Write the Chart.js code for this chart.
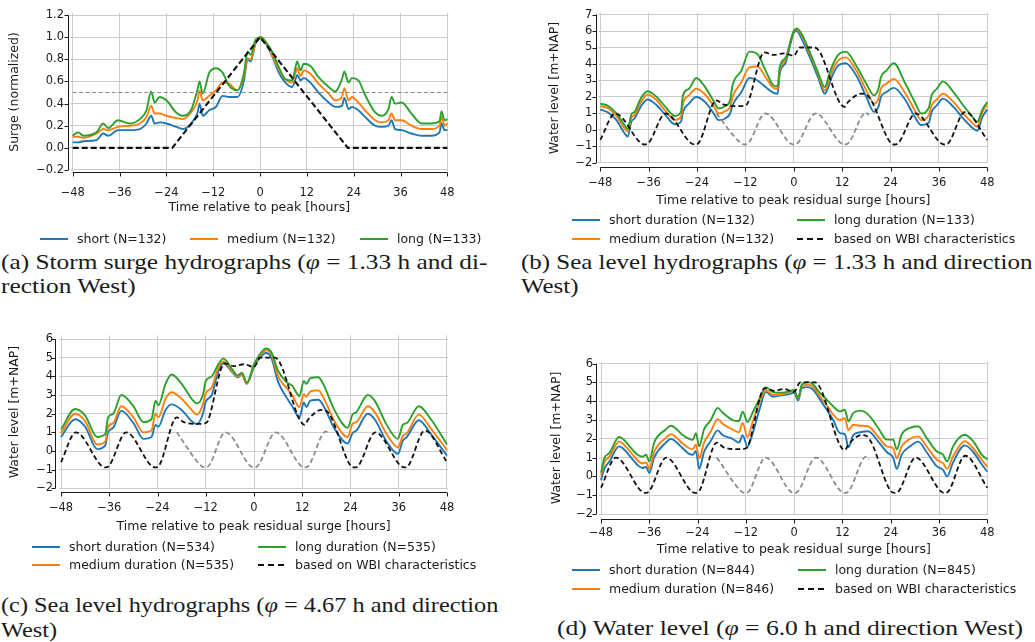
<!DOCTYPE html>
<html><head><meta charset="utf-8">
<script src="https://cdn.jsdelivr.net/npm/chart.js@4.4.1/dist/chart.umd.min.js"></script>
<style>
html,body{margin:0;padding:0;background:#fff;}
#wrap{position:relative;width:1035px;height:642px;overflow:hidden;background:#fff;}
canvas{position:absolute;}
.cap{position:absolute;white-space:nowrap;font-family:"Liberation Serif",serif;font-size:21px;line-height:24px;height:24px;color:#1a1a1a;transform-origin:0 50%;}
.leg{position:absolute;font-family:"DejaVu Sans",sans-serif;color:#1a1a1a;white-space:nowrap;line-height:16px;height:16px;}
.leg .ln{position:absolute;left:0;top:7px;width:28px;height:2px;}
.leg .tx{position:absolute;top:0;}
</style></head>
<body><div id="wrap">
<canvas id="ca" width="470" height="222" style="left:0;top:0"></canvas>
<canvas id="cb" width="515" height="222" style="left:520px;top:0"></canvas>
<canvas id="cc" width="500" height="225" style="left:0;top:320px"></canvas>
<canvas id="cd" width="515" height="245" style="left:520px;top:320px"></canvas>
<div class="cap" id="capA1" style="left:1px;top:250px">(a) Storm surge hydrographs (<i>φ</i> = 1.33 h and di-</div>
<div class="cap" id="capA2" style="left:1px;top:274px">rection West)</div>
<div class="cap" id="capB1" style="left:521px;top:250px">(b) Sea level hydrographs (<i>φ</i> = 1.33 h and direction</div>
<div class="cap" id="capB2" style="left:521px;top:274px">West)</div>
<div class="cap" id="capC1" style="left:1px;top:593px">(c) Sea level hydrographs (<i>φ</i> = 4.67 h and direction</div>
<div class="cap" id="capC2" style="left:1px;top:618px">West)</div>
<div class="cap" id="capD1" style="left:557px;top:616px">(d) Water level (<i>φ</i> = 6.0 h and direction West)</div>
</div>
<script>
// ---------- tick labels ----------
const xTicks = [-48,-36,-24,-12,0,12,24,36,48];
const yTicksA = [-0.2,0,0.2,0.4,0.6,0.8,1.0,1.2];
const yTicksB = [-2,-1,0,1,2,3,4,5,6,7];
const yTicksCD = [-2,-1,0,1,2,3,4,5,6];

// ---------- (a) storm surge hydrographs (normalized) ----------
const timeA = [-48,-46.6,-45.3,-41.9,-40.2,-38.9,-36.4,-33.4,-30.8,-29.1,-27.9,-27,-25.7,-24,-21.5,-19.8,-17.7,-16,-15.5,-14.7,-13,-11.3,-9.6,-7.9,-5.8,-4.1,-3.2,-2.4,-1.1,0.2,1.4,3.1,4.8,6.5,8.2,9.1,9.5,10.4,11.2,12.9,15,17.6,19.3,21,21.6,22.7,23.5,25.2,26.9,29.5,31.2,32.9,33.7,34.6,36.3,38.8,41.4,43.9,46,46.5,47.3,48];
const shortA = [0.05,0.05,0.06,0.07,0.13,0.11,0.16,0.16,0.17,0.22,0.29,0.22,0.23,0.22,0.19,0.17,0.22,0.32,0.4,0.29,0.34,0.37,0.47,0.46,0.46,0.61,0.8,0.78,0.95,1.0,0.95,0.83,0.68,0.59,0.55,0.62,0.66,0.61,0.63,0.59,0.5,0.41,0.37,0.38,0.45,0.35,0.37,0.34,0.28,0.2,0.19,0.2,0.25,0.17,0.16,0.13,0.11,0.11,0.14,0.22,0.16,0.16];
const mediumA = [0.1,0.1,0.09,0.13,0.17,0.16,0.19,0.2,0.22,0.28,0.38,0.31,0.31,0.29,0.27,0.26,0.32,0.43,0.52,0.43,0.47,0.52,0.59,0.58,0.52,0.65,0.81,0.8,0.96,1.0,0.96,0.84,0.71,0.62,0.59,0.68,0.72,0.65,0.7,0.67,0.58,0.49,0.43,0.46,0.54,0.43,0.46,0.41,0.34,0.25,0.23,0.25,0.31,0.25,0.25,0.2,0.17,0.17,0.2,0.28,0.2,0.22];
const longA = [0.11,0.14,0.11,0.14,0.22,0.18,0.25,0.22,0.26,0.34,0.51,0.41,0.46,0.43,0.32,0.29,0.34,0.53,0.6,0.49,0.68,0.72,0.68,0.56,0.52,0.68,0.87,0.84,0.98,1.0,0.96,0.87,0.73,0.62,0.61,0.73,0.78,0.7,0.76,0.74,0.64,0.55,0.51,0.62,0.69,0.59,0.63,0.61,0.48,0.32,0.29,0.35,0.46,0.4,0.41,0.31,0.22,0.22,0.24,0.33,0.25,0.26];
const idealTimeA = [-48,-22.5,0,22.5,48];
const idealA = [0,0,1,0,0];
const halfTimeA = [-48,48];
const halfA = [0.5,0.5];
const labelsA = ['short (N=132)','medium (N=132)','long (N=133)'];

// ---------- (b) sea level, phi = 1.33 h ----------
const timeB = [-48,-46,-44,-42,-41.2,-40.3,-39.5,-38,-36.3,-34,-32,-29.5,-28,-27.5,-26,-24.2,-22,-20,-18.6,-17,-15.8,-15.2,-13,-11,-9,-7,-5,-4,-3.5,-2,0,0.7,2,4,6,7.7,8.7,9.4,11,12.9,15.5,18,19.9,21,21.6,23,24.8,27.7,30,31.6,33.5,34.2,35.5,37,39.6,42,44,45.5,46.8,48];
const shortB = [1.25,1.05,0.6,-0.2,-0.4,0.5,0.7,1.4,1.85,1.5,0.95,0.35,0.5,1.1,1.6,2.0,1.7,1.05,0.6,0.7,1.0,1.5,2.3,3.15,3.0,2.6,2.25,2.2,3.4,4.1,5.9,6.0,5.5,4.4,3.2,2.2,2.7,3.2,3.9,4.05,3.3,2.0,1.1,1.4,2.0,2.3,2.55,1.8,0.8,0.3,0.45,1.1,1.5,1.9,1.4,0.7,0.2,-0.05,0.8,1.25];
const mediumB = [1.45,1.3,0.85,0.1,-0.1,0.75,0.9,1.65,2.15,1.8,1.2,0.6,0.8,1.6,2.1,2.5,2.15,1.5,1.0,1.15,1.4,2.0,2.9,3.8,3.85,3.2,2.55,2.5,3.6,4.3,6.0,6.1,5.7,4.6,3.4,2.4,3.0,3.5,4.2,4.4,3.6,2.4,1.6,1.9,2.5,2.8,3.1,2.2,1.2,0.6,0.9,1.5,1.85,2.2,1.7,1.0,0.5,0.2,1.1,1.55];
const longB = [1.6,1.45,1.0,0.3,0.05,0.95,1.1,1.9,2.35,2.0,1.45,0.85,1.1,2.1,2.5,3.15,2.6,1.8,1.3,1.45,1.8,2.7,3.6,4.75,4.6,3.6,2.7,2.65,3.8,4.4,6.0,6.15,5.8,4.7,3.5,2.6,3.3,3.8,4.55,4.75,3.9,2.8,2.1,2.5,3.2,3.6,4.05,2.8,1.7,1.0,1.35,2.1,2.5,2.95,2.3,1.5,0.9,0.5,1.25,1.7];
const labelsB = ['short duration (N=132)','medium duration (N=132)','long duration (N=133)','based on WBI characteristics'];

// ---------- (c) sea level, phi = 4.67 h ----------
const timeC = [-48,-44.5,-42,-39,-37,-36.3,-35,-33,-30,-27.5,-25.5,-24.5,-23.8,-22,-20.5,-18,-15.5,-14.2,-12.7,-12,-10.5,-9,-7.6,-5.5,-4,-3,-1.8,0,1.5,3,4.3,6,8,9.5,11.3,12.4,13,14,16,17.2,20,23.3,24.5,25.5,28.3,30,33,35.8,37,38,41,44,48];
const shortC = [0.75,1.7,1.3,0.1,0.3,1.0,1.25,2.15,1.5,0.65,0.75,1.4,1.3,2.2,2.5,2.2,1.6,1.45,2.0,2.65,3.0,4.2,4.7,4.25,3.95,4.1,3.6,4.5,5.0,5.25,5.0,3.7,2.9,2.4,1.8,2.6,2.35,2.7,2.75,2.45,1.2,0.4,0.95,1.1,2.0,1.7,0.5,-0.15,0.55,0.75,1.65,0.9,-0.25];
const mediumC = [0.95,2.0,1.6,0.35,0.5,1.3,1.5,2.4,1.8,1.0,1.1,2.0,1.8,2.8,3.15,2.8,2.2,1.95,2.5,3.1,3.4,4.4,4.8,4.3,4.0,4.1,3.6,4.6,5.1,5.4,5.2,4.0,3.4,3.0,2.35,3.05,2.9,3.2,3.25,2.9,1.6,0.75,1.45,1.55,2.4,2.1,0.9,0.2,0.8,0.95,1.95,1.2,0.05];
const longC = [1.15,2.25,1.9,0.75,0.9,1.8,2.0,3.0,2.4,1.55,1.7,2.7,2.45,3.6,4.1,3.6,2.8,2.55,3.0,3.75,4.0,4.6,4.95,4.4,4.05,4.2,3.65,4.65,5.2,5.5,5.3,4.3,3.7,3.5,2.95,3.75,3.6,3.9,3.95,3.6,2.2,1.25,1.95,2.1,3.0,2.7,1.4,0.65,1.4,1.5,2.4,1.7,0.35];
const labelsC = ['short duration (N=534)','medium duration (N=535)','long duration (N=535)','based on WBI characteristics'];

// ---------- (d) water level, phi = 6.0 h ----------
const timeD = [-48,-47.2,-45.9,-43.5,-42.6,-40.1,-38.9,-37.7,-36.8,-36,-34.8,-31.9,-30.6,-29.4,-27.7,-26.1,-25.2,-24.4,-23.6,-22.4,-20.7,-19,-17.8,-15.3,-13.7,-12.8,-11.6,-10.3,-8.7,-7,-5.4,-3.7,-1.7,0,1,1.9,3.5,4.8,6.4,8.1,9.7,11.4,12.6,13.5,14.7,16.4,18.4,20.9,23,24.6,25.5,26.7,28.8,30.8,32.9,35.4,37,38,39.5,42.4,44.5,46.6,48];
const shortD = [-0.2,0.4,0.8,1.6,1.5,0.9,0.6,0.45,0.5,0.18,1.0,1.8,2.0,1.85,1.5,1.2,1.15,1.35,0.4,1.3,1.9,2.45,2.2,2.0,1.8,2.2,1.6,2.3,3.5,4.5,4.25,4.3,4.35,4.45,4.05,4.7,4.75,4.6,4.1,3.55,3.0,2.3,2.25,1.55,2.2,2.35,2.4,1.85,1.3,1.0,0.4,1.15,1.6,1.85,1.3,0.55,0.35,0.0,0.75,1.65,1.3,0.65,0.25];
const mediumD = [0.05,0.75,1.05,1.85,1.75,1.15,0.85,0.7,0.75,0.4,1.3,2.05,2.25,2.1,1.75,1.5,1.45,1.7,0.95,1.8,2.4,3.05,2.8,2.5,2.35,2.85,2.1,2.9,3.9,4.6,4.35,4.35,4.45,4.55,4.15,4.8,4.88,4.75,4.26,3.8,3.29,3.0,3.1,2.45,2.75,2.7,2.67,2.1,1.6,1.5,0.95,1.6,2.0,2.13,1.6,0.9,0.7,0.4,1.07,1.87,1.5,0.9,0.5];
const longD = [0.2,0.95,1.25,2.1,2.0,1.4,1.15,1.05,1.15,0.8,1.8,2.5,2.7,2.55,2.2,2.0,1.95,2.3,1.6,2.5,3.0,3.65,3.4,3.0,2.95,3.45,2.9,3.4,4.1,4.75,4.5,4.45,4.5,4.6,4.17,4.88,5.02,4.88,4.44,4.09,3.73,3.46,3.55,2.93,3.38,3.5,3.29,2.58,1.96,1.96,1.43,2.22,2.58,2.67,2.05,1.34,1.16,0.8,1.6,2.22,1.87,1.16,0.9];
const labelsD = ['short duration (N=844)','medium duration (N=846)','long duration (N=845)','based on WBI characteristics'];

// ---------- WBI design hydrograph and astronomical tide (b, c, d) ----------
const wbiTime = [-48,-44.3,-38,-37,-36,-31.8,-25.6,-24.6,-23.6,-19.2,-17.5,-13.5,-12,-11.5,-7.3,-5,-2.5,0,1.5,5.2,12.6,13.5,16.8,18,24,25,26,30.2,36.4,37.4,38.4,42.5,48];
const wbiLevel = [-0.6,1.0,-0.78,-0.88,-0.78,1.0,-0.78,-0.88,-0.78,1.8,1.55,1.45,1.5,1.6,4.7,4.55,4.65,4.5,5.0,5.0,1.4,1.7,2.2,2.15,-0.78,-0.88,-0.78,1.0,-0.78,-0.88,-0.78,1.1,-0.6];
const tideTime = [-19.2,-13.2,-12.2,-11.2,-7.1,-1,0,1,5.4,11.6,12.6,13.6,17.9,18.6];
const tideLevel = [1.0,-0.78,-0.88,-0.78,1.0,-0.78,-0.88,-0.78,1.0,-0.78,-0.88,-0.78,1.05,0.9];

// ---------- styling ----------
const BLUE='#1f77b4', ORANGE='#ff7f0e', GREEN='#2ca02c', BLACK='#111111', GREY='#8c8c8c', GRID='#cccccc', INK='#1a1a1a';
const SANS = "'DejaVu Sans', sans-serif";
const mctx = document.createElement('canvas').getContext('2d');
function textW(t, size){ mctx.font = size + 'px ' + SANS; return mctx.measureText(t).width; }
// font sizes calibrated to the reference text widths
const LABEL_FS = 0.5 * (100 * 275 / textW('Time relative to peak residual surge [hours]', 100) + 100 * 181 / textW('Time relative to peak [hours]', 100));
const TICK_FS = LABEL_FS * 11 / 12;
const LEGEND_FS = 100 * 146 / textW('short duration (N=132)', 100);

function pts(t, v){ return t.map((x,i)=>({x:x, y:v[i]})); }
function series(label, t, v, color, order, extra){
  return Object.assign({label:label, data:pts(t,v), borderColor:color, backgroundColor:color,
    borderWidth:1.9, pointRadius:0, pointHoverRadius:0, fill:false, tension:0,
    cubicInterpolationMode:'monotone', order:order}, extra||{});
}
const minus = v => (v < 0 ? '\u2212' : '') + Math.abs(v);
const minus1 = v => (v < -1e-9 ? '\u2212' : '') + Math.abs(v).toFixed(1);

const spinePlugin = {
  id:'spines',
  afterDraw(chart, args, o){
    const {ctx, chartArea, scales} = chart;
    const x = scales.x, y = scales.y;
    const sx = Math.round(chartArea.left - o.offX) + 0.5;
    const sy = Math.round(chartArea.bottom + o.offY) + 0.5;
    ctx.save();
    ctx.strokeStyle = INK; ctx.lineWidth = 1; ctx.setLineDash([]);
    ctx.beginPath();
    ctx.moveTo(sx, y.getPixelForValue(o.yTicks[0])); ctx.lineTo(sx, y.getPixelForValue(o.yTicks[o.yTicks.length-1]));
    o.yTicks.forEach(v=>{ const p = Math.round(y.getPixelForValue(v))+0.5; ctx.moveTo(sx, p); ctx.lineTo(sx-4, p); });
    ctx.moveTo(x.getPixelForValue(o.xTicks[0]), sy); ctx.lineTo(x.getPixelForValue(o.xTicks[o.xTicks.length-1]), sy);
    o.xTicks.forEach(v=>{ const p = Math.round(x.getPixelForValue(v))+0.5; ctx.moveTo(p, sy); ctx.lineTo(p, sy+4); });
    ctx.stroke();
    ctx.restore();
  }
};

// g: chart-area geometry (canvas-local) and label centre positions
function panel(id, g, datasets, yTicks, yFmt, yTitle, xTitle){
  const H = document.getElementById(id).height;
  const lhL = 0.6 * LABEL_FS, lhT = 0.6 * TICK_FS;
  return new Chart(document.getElementById(id), {
    type:'line',
    data:{datasets:datasets},
    options:{
      responsive:false, animation:false, devicePixelRatio:1, events:[],
      layout:{padding:{left:0, top:g.top, right:g.padR, bottom:0}},
      plugins:{legend:{display:false}, tooltip:{enabled:false},
        spines:{xTicks:xTicks, yTicks:yTicks, offX:g.offX, offY:g.offY}},
      scales:{
        x:{type:'linear', min:g.xMin, max:g.xMax,
          afterBuildTicks:s=>{ s.ticks = xTicks.map(v=>({value:v})); },
          afterFit:s=>{ s.height = H - g.bottom; },
          grid:{color:GRID, lineWidth:1, drawTicks:false}, border:{display:false},
          ticks:{padding:g.xTickDist - lhT, autoSkip:false, maxRotation:0, color:INK, font:{family:SANS, size:TICK_FS}, callback:v=>minus(v)},
          title:{display:true, text:xTitle, color:INK, font:{family:SANS, size:LABEL_FS}, padding:{top:0, bottom:H - g.xLabelY - lhL}}},
        y:{type:'linear', min:g.yMin, max:g.yMax,
          afterBuildTicks:s=>{ s.ticks = yTicks.map(v=>({value:v})); },
          afterFit:s=>{ s.width = g.left; },
          grid:{color:GRID, lineWidth:1, drawTicks:false}, border:{display:false},
          ticks:{padding:g.yPad, autoSkip:false, color:INK, font:{family:SANS, size:TICK_FS}, callback:v=>yFmt(v)},
          title:{display:true, text:yTitle, color:INK, font:{family:SANS, size:LABEL_FS}, padding:{top:g.yLabelX - lhL, bottom:0}}}
      }
    },
    plugins:[spinePlugin]
  });
}

function sealevelSets(labels, t, s, m, l){
  return [
    series(labels[0], t, s, BLUE, 6),
    series(labels[1], t, m, ORANGE, 5),
    series(labels[2], t, l, GREEN, 4),
    series(labels[3], wbiTime, wbiLevel, BLACK, 2, {borderDash:[5,3], borderWidth:1.8}),
    series(null, tideTime, tideLevel, GREY, 3, {borderDash:[5,3], borderWidth:1.8})
  ];
}

const chartA = panel('ca',
  {left:70, top:11.5, padR:19.5, bottom:171.1, xMin:-48.7, xMax:48.3, yMin:-0.21, yMax:1.22, xTickDist:22.2, xLabelY:208, yLabelX:15, yPad:6, offX:2, offY:1},
  [ series(labelsA[0], timeA, shortA, BLUE, 6),
    series(labelsA[1], timeA, mediumA, ORANGE, 5),
    series(labelsA[2], timeA, longA, GREEN, 4),
    series(null, idealTimeA, idealA, BLACK, 2, {borderDash:[6,3], borderWidth:2.1, cubicInterpolationMode:'default'}),
    series(null, halfTimeA, halfA, GREY, 3, {borderDash:[4,2.5], borderWidth:1.1, cubicInterpolationMode:'default'}) ],
  yTicksA, minus1, 'Surge (normalized)', 'Time relative to peak [hours]');

const chartB = panel('cb',
  {left:78.3, top:11.7, padR:46.7, bottom:163.3, xMin:-48.5, xMax:48.25, yMin:-2.02, yMax:7.1, xTickDist:20, xLabelY:201, yLabelX:35, yPad:6, offX:2.3, offY:3.4},
  sealevelSets(labelsB, timeB, shortB, mediumB, longB),
  yTicksB, minus, 'Water level [m+NAP]', 'Time relative to peak residual surge [hours]');

const chartC = panel('cc',
  {left:59, top:15.3, padR:51.8, bottom:168.7, xMin:-48.5, xMax:48.3, yMin:-2.02, yMax:6.2, xTickDist:19.3, xLabelY:207, yLabelX:15, yPad:6, offX:4, offY:3},
  sealevelSets(labelsC, timeC, shortC, mediumC, longC),
  yTicksCD, minus, 'Water level [m+NAP]', 'Time relative to peak residual surge [hours]');

const chartD = panel('cd',
  {left:79, top:41.8, padR:46.5, bottom:194, xMin:-48.5, xMax:48.3, yMin:-2.0, yMax:6.1, xTickDist:19, xLabelY:230, yLabelX:37, yPad:6, offX:3, offY:5},
  sealevelSets(labelsD, timeD, shortD, mediumD, longD),
  yTicksCD, minus, 'Water level [m+NAP]', 'Time relative to peak residual surge [hours]');

// ---------- HTML legends built from the chart datasets ----------
function legend(chart, slots){
  const wrap = document.getElementById('wrap');
  chart.data.datasets.forEach((ds, i)=>{
    if (!ds.label || !slots[i]) return;
    const [x, y] = slots[i];
    const d = document.createElement('div');
    d.className = 'leg';
    d.style.fontSize = LEGEND_FS + 'px';
    d.style.left = x + 'px'; d.style.top = (y - 8) + 'px';
    const ln = document.createElement('div');
    ln.className = 'ln';
    if (ds.borderDash) ln.style.background = 'repeating-linear-gradient(to right,' + ds.borderColor + ' 0 6px, transparent 6px 10px)';
    else ln.style.background = ds.borderColor;
    const tx = document.createElement('span');
    tx.className = 'tx'; tx.style.left = '37px'; tx.textContent = ds.label;
    d.appendChild(ln); d.appendChild(tx); wrap.appendChild(d);
  });
}
legend(chartA, [[40,239],[190,239],[360,239]]);
legend(chartB, [[572,220],[572,238.5],[797,220],[797,238.5]]);
legend(chartC, [[32,547],[32,565],[258,547],[258,565]]);
legend(chartD, [[572,570],[572,589],[798,570],[798,589]]);

// ---------- fit caption widths ----------
function fit(ids, target){
  const el = document.getElementById(ids[0]);
  const s = target / el.scrollWidth;
  ids.forEach(id => document.getElementById(id).style.transform = 'scaleX(' + s + ')');
}
fit(['capA1','capA2'], 486);
fit(['capB1','capB2'], 512);
fit(['capC1','capC2'], 497);
fit(['capD1'], 466);
</script>
</body></html>
